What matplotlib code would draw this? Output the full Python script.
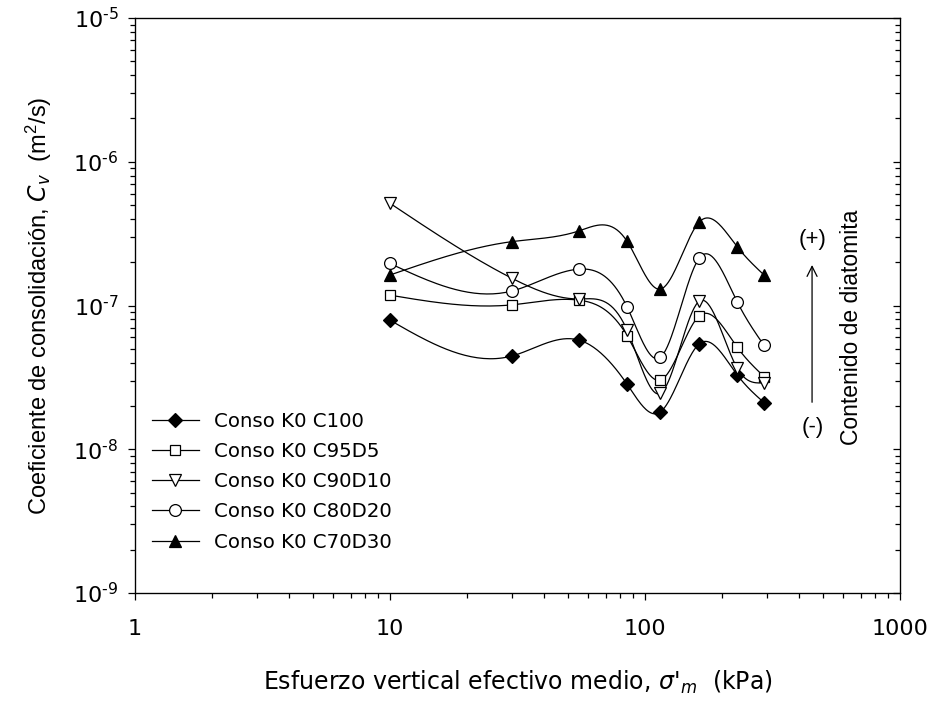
import numpy as np
import matplotlib
matplotlib.use("Agg")
import matplotlib.pyplot as plt
from matplotlib.ticker import LogLocator, FixedLocator, NullFormatter

# === data ===
esfuerzo = [10, 30, 55, 85, 115, 163, 230, 293]

cv_c100 = [7.9e-8, 4.45e-8, 5.75e-8, 2.84e-8, 1.82e-8, 5.4e-8, 3.29e-8, 2.11e-8]
cv_c95d5 = [1.18e-7, 1.01e-7, 1.09e-7, 6.17e-8, 3.03e-8, 8.45e-8, 5.12e-8, 3.2e-8]
cv_c90d10 = [5.14e-7, 1.55e-7, 1.11e-7, 6.76e-8, 2.45e-8, 1.07e-7, 3.66e-8, 2.9e-8]
cv_c80d20 = [1.96e-7, 1.26e-7, 1.79e-7, 9.8e-8, 4.36e-8, 2.13e-7, 1.06e-7, 5.28e-8]
cv_c70d30 = [1.63e-7, 2.78e-7, 3.3e-7, 2.8e-7, 1.30e-7, 3.8e-7, 2.56e-7, 1.63e-7]

series_names = ["Conso K0 C100", "Conso K0 C95D5", "Conso K0 C90D10",
                "Conso K0 C80D20", "Conso K0 C70D30"]

x_ticks = [1, 10, 100, 1000]
y_ticks = [1e-9, 1e-8, 1e-7, 1e-6, 1e-5]
y_exps = [-9, -8, -7, -6, -5]

plt.rcParams["font.family"] = ["DejaVu Sans"]
plt.rcParams["mathtext.default"] = "regular"


# natural cubic spline in log-log space, only used to draw the smooth curve
def spline_curve(x, y, n=40):
    lx = np.log10(np.asarray(x, float))
    ly = np.log10(np.asarray(y, float))
    k = len(lx)
    h = np.diff(lx)
    A = np.zeros((k, k))
    b = np.zeros(k)
    A[0, 0] = A[-1, -1] = 1
    for i in range(1, k - 1):
        A[i, i - 1] = h[i - 1]
        A[i, i] = 2 * (h[i - 1] + h[i])
        A[i, i + 1] = h[i]
        b[i] = 3 * ((ly[i + 1] - ly[i]) / h[i] - (ly[i] - ly[i - 1]) / h[i - 1])
    c = np.linalg.solve(A, b)
    xs, ys = [], []
    for i in range(k - 1):
        t = np.linspace(0, h[i], n)
        bb = (ly[i + 1] - ly[i]) / h[i] - h[i] * (2 * c[i] + c[i + 1]) / 3
        d = (c[i + 1] - c[i]) / (3 * h[i])
        xs.append(lx[i] + t)
        ys.append(ly[i] + bb * t + c[i] * t ** 2 + d * t ** 3)
    return 10 ** np.concatenate(xs), 10 ** np.concatenate(ys)


fig = plt.figure(figsize=(9.35, 7.09), dpi=100)
ax = fig.add_axes([135 / 935, 1 - 593 / 709, 765 / 935, 575 / 709])

estilos = [
    (cv_c100, "D", "black", 7.5),
    (cv_c95d5, "s", "white", 7.5),
    (cv_c90d10, "v", "white", 8.5),
    (cv_c80d20, "o", "white", 8.5),
    (cv_c70d30, "^", "black", 8.5),
]

for (vals, mk, fc, ms), nom in zip(estilos, series_names):
    xs, ys = spline_curve(esfuerzo, vals)
    ax.plot(xs, ys, color="black", lw=0.9, zorder=2)
    ax.plot(esfuerzo, vals, linestyle="none", marker=mk, ms=ms, mfc=fc,
            mec="black", mew=0.9, zorder=3)
    ax.plot([], [], color="black", lw=0.9, marker=mk, ms=ms, mfc=fc,
            mec="black", mew=0.9, label=nom)

ax.set_xscale("log")
ax.set_yscale("log")
ax.set_xlim(1, 1000)
ax.set_ylim(1e-9, 1e-5)

ax.xaxis.set_major_locator(FixedLocator(x_ticks))
ax.set_xticklabels([str(v) for v in x_ticks])
ax.xaxis.set_minor_locator(LogLocator(base=10, subs=np.arange(2, 10)))
ax.xaxis.set_minor_formatter(NullFormatter())
ax.yaxis.set_major_locator(FixedLocator(y_ticks))
ax.set_yticklabels([r"10$^{\text{%d}}$" % e for e in y_exps])
ax.yaxis.set_minor_locator(LogLocator(base=10, subs=np.arange(2, 10)))
ax.yaxis.set_minor_formatter(NullFormatter())

ax.tick_params(which="major", direction="out", length=5, width=0.9, labelsize=16)
ax.tick_params(axis="x", which="major", pad=14)
ax.tick_params(axis="y", which="major", pad=7)
ax.tick_params(which="minor", direction="out", length=3.5, width=0.9)
for sp in ax.spines.values():
    sp.set_linewidth(0.9)

# ticks hacia dentro en el eje derecho
axr = ax.twinx()
axr.set_yscale("log")
axr.set_ylim(ax.get_ylim())
axr.yaxis.set_major_locator(FixedLocator(y_ticks))
axr.yaxis.set_minor_locator(LogLocator(base=10, subs=np.arange(2, 10)))
axr.tick_params(which="both", direction="in", labelright=False)
axr.tick_params(which="major", length=5, width=0.9)
axr.tick_params(which="minor", length=3.5, width=0.9)
axr.yaxis.set_minor_formatter(NullFormatter())

ax.set_xlabel(r"Esfuerzo vertical efectivo medio, $\mathit{\sigma}$'$_{\mathit{m}}$  (kPa)",
              fontsize=17, labelpad=21)
ax.set_ylabel(r"Coeficiente de consolidación, $\mathit{C}_{\mathit{v}}$  (m$^2$/s)",
              fontsize=17, labelpad=14, family=["Liberation Sans", "DejaVu Sans"])

ax.legend(loc="lower left", bbox_to_anchor=(0.022, 0.072), frameon=False,
          fontsize=14.2, handlelength=2.4, handletextpad=0.75, labelspacing=0.57,
          borderaxespad=0, borderpad=0)

# flecha "contenido de diatomita"
ax.annotate("", xy=(452, 2.0e-7), xytext=(452, 2.03e-8),
            arrowprops=dict(arrowstyle="->", color="black", lw=0.9, mutation_scale=18))
ax.text(455, 2.86e-7, "(+)", ha="center", va="center", fontsize=16,
        family=["Liberation Sans", "DejaVu Sans"])
ax.text(455, 1.41e-8, "(-)", ha="center", va="center", fontsize=16,
        family=["Liberation Sans", "DejaVu Sans"])
ax.text(648, 7.0e-8, "Contenido de diatomita", rotation=90, ha="center", va="center",
        fontsize=16.5, family=["Liberation Sans", "DejaVu Sans"])

fig.savefig("out.png", dpi=100)
